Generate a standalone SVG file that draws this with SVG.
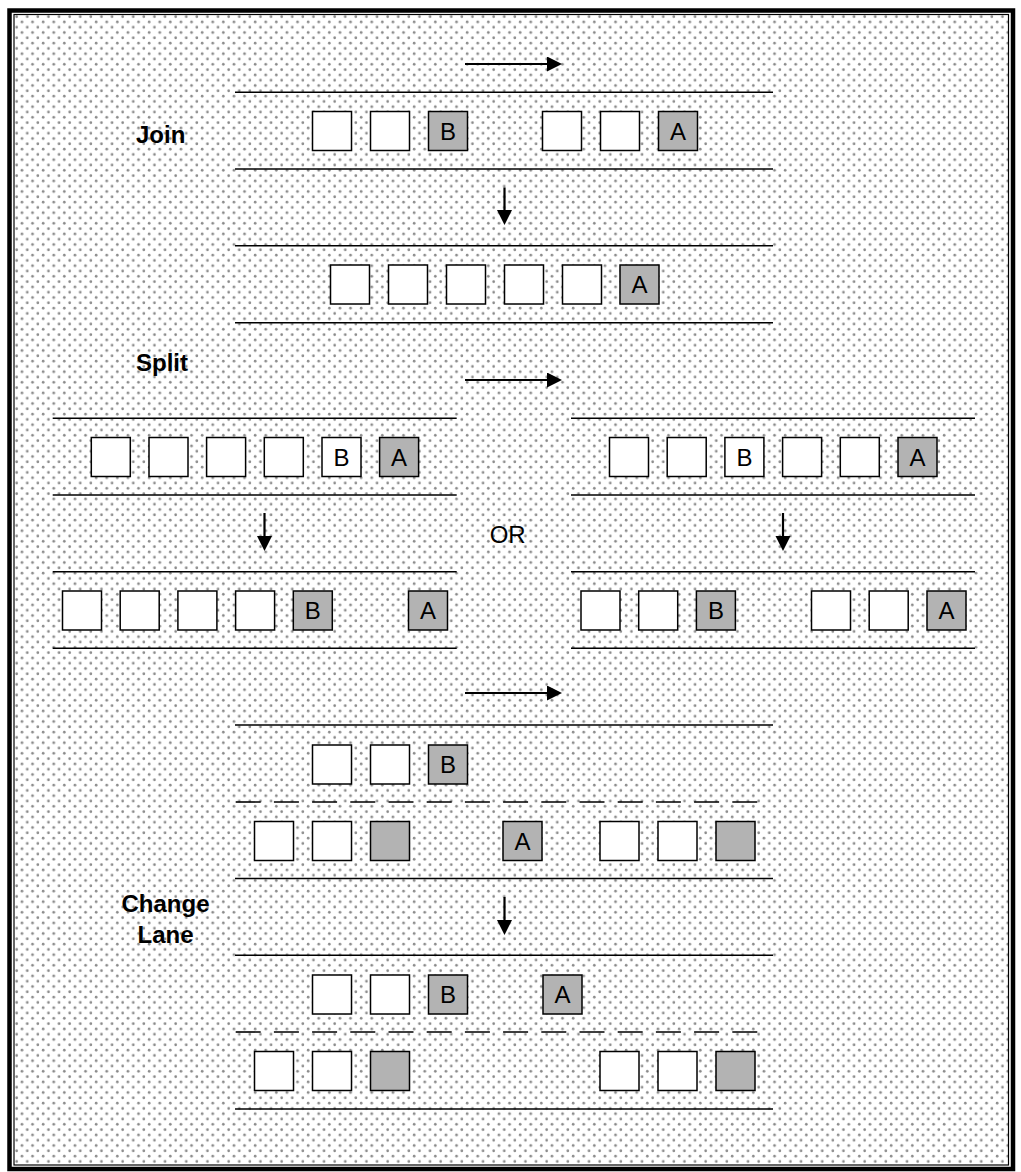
<svg xmlns="http://www.w3.org/2000/svg" width="1021" height="1172" viewBox="0 0 1021 1172">
<defs>
  <pattern id="dots" patternUnits="userSpaceOnUse" x="14" y="14" width="10.6" height="10.6">
    <circle cx="2.65" cy="2.65" r="1.35" fill="#8a8a8a"/>
    <circle cx="7.95" cy="7.95" r="1.35" fill="#8a8a8a"/>
  </pattern>
  <marker id="ah" markerUnits="userSpaceOnUse" markerWidth="16" markerHeight="16" refX="1" refY="7.5" orient="auto">
    <path d="M0,0 L15,7.5 L0,15 z" fill="#000"/>
  </marker>
  <style>
    .lane{stroke:#000;stroke-width:1.6;fill:none}
    .dash{stroke:#000;stroke-width:1.6;fill:none;stroke-dasharray:25 13.2}
    .arr{stroke:#000;stroke-width:2.2;fill:none;marker-end:url(#ah)}
    .car{fill:#fff;stroke:#000;stroke-width:1.5}
    .car.g{fill:#b3b3b3}
    .lbl{font-family:"Liberation Sans",Arial,sans-serif;font-size:24px;fill:#000}
    .title{font-family:"Liberation Sans",Arial,sans-serif;font-size:24px;font-weight:bold;fill:#000}
    .mid{text-anchor:middle}
  </style>
</defs>
<rect width="1021" height="1172" fill="#fff"/>
<g id="frame">
  <rect x="14" y="14.5" width="994.5" height="1150.5" fill="url(#dots)" stroke="#000" stroke-width="1.2"/>
  <rect x="9.5" y="10.5" width="1003.5" height="1158.5" fill="none" stroke="#000" stroke-width="4.5"/>
</g>

<g id="lanes">
  <line class="lane" x1="235" y1="92.3" x2="773" y2="92.3"/>
  <line class="lane" x1="235" y1="169" x2="773" y2="169"/>
  <line class="lane" x1="235" y1="245.7" x2="773" y2="245.7"/>
  <line class="lane" x1="235" y1="322.7" x2="773" y2="322.7"/>

  <line class="lane" x1="52.7" y1="418.3" x2="456.7" y2="418.3"/>
  <line class="lane" x1="52.7" y1="495" x2="456.7" y2="495"/>
  <line class="lane" x1="571" y1="418.3" x2="975" y2="418.3"/>
  <line class="lane" x1="571" y1="495" x2="975" y2="495"/>
  <line class="lane" x1="52.7" y1="571.7" x2="456.7" y2="571.7"/>
  <line class="lane" x1="52.7" y1="648.3" x2="456.7" y2="648.3"/>
  <line class="lane" x1="571" y1="571.7" x2="975" y2="571.7"/>
  <line class="lane" x1="571" y1="648.3" x2="975" y2="648.3"/>

  <line class="lane" x1="235" y1="725" x2="773" y2="725"/>
  <line class="dash" x1="235.7" y1="802" x2="760" y2="802"/>
  <line class="lane" x1="235" y1="878.5" x2="773" y2="878.5"/>
  <line class="lane" x1="235" y1="955.3" x2="773" y2="955.3"/>
  <line class="dash" x1="235.7" y1="1032" x2="760" y2="1032"/>
  <line class="lane" x1="235" y1="1109" x2="773" y2="1109"/>
</g>

<g id="labels">
  <text class="title" x="136" y="142.5">Join</text>
  <text class="title" x="136" y="371">Split</text>
  <text class="title mid" x="165.5" y="912">Change</text>
  <text class="title mid" x="165.5" y="942.5">Lane</text>
  <text class="lbl mid" x="507.7" y="543">OR</text>
</g>

<g id="connectors">
  <line class="arr" x1="465" y1="64" x2="548" y2="64"/>
  <line class="arr" x1="504.5" y1="187.5" x2="504.5" y2="211"/>
  <line class="arr" x1="465" y1="380" x2="548" y2="380"/>
  <line class="arr" x1="264.5" y1="513" x2="264.5" y2="537"/>
  <line class="arr" x1="783" y1="513" x2="783" y2="537"/>
  <line class="arr" x1="465" y1="693" x2="548" y2="693"/>
  <line class="arr" x1="504.5" y1="897" x2="504.5" y2="921"/>
</g>

<!-- Join: row 1 -->
<g id="j1a"><rect class="car" x="312.5" y="111.5" width="39" height="39"/></g>
<g id="j1b"><rect class="car" x="370.5" y="111.5" width="39" height="39"/></g>
<g id="j1B"><rect class="car g" x="428.5" y="111.5" width="39" height="39"/><text class="lbl mid" x="448" y="139.5">B</text></g>
<g id="j1c"><rect class="car" x="542.5" y="111.5" width="39" height="39"/></g>
<g id="j1d"><rect class="car" x="600.5" y="111.5" width="39" height="39"/></g>
<g id="j1A"><rect class="car g" x="658.5" y="111.5" width="39" height="39"/><text class="lbl mid" x="678" y="139.5">A</text></g>

<!-- Join: row 2 -->
<g id="j2a"><rect class="car" x="330.5" y="265" width="39" height="39"/></g>
<g id="j2b"><rect class="car" x="388.5" y="265" width="39" height="39"/></g>
<g id="j2c"><rect class="car" x="446.5" y="265" width="39" height="39"/></g>
<g id="j2d"><rect class="car" x="504.5" y="265" width="39" height="39"/></g>
<g id="j2e"><rect class="car" x="562.5" y="265" width="39" height="39"/></g>
<g id="j2A"><rect class="car g" x="620" y="265" width="39" height="39"/><text class="lbl mid" x="639.5" y="293">A</text></g>

<!-- Split: left before -->
<g id="s1a"><rect class="car" x="91.3" y="437.5" width="39" height="39"/></g>
<g id="s1b"><rect class="car" x="149" y="437.5" width="39" height="39"/></g>
<g id="s1c"><rect class="car" x="206.6" y="437.5" width="39" height="39"/></g>
<g id="s1d"><rect class="car" x="264.3" y="437.5" width="39" height="39"/></g>
<g id="s1B"><rect class="car" x="322" y="437.5" width="39" height="39"/><text class="lbl mid" x="341.5" y="465.5">B</text></g>
<g id="s1A"><rect class="car g" x="379.6" y="437.5" width="39" height="39"/><text class="lbl mid" x="399.1" y="465.5">A</text></g>

<!-- Split: right before -->
<g id="s2a"><rect class="car" x="609.5" y="437.5" width="39" height="39"/></g>
<g id="s2b"><rect class="car" x="667.2" y="437.5" width="39" height="39"/></g>
<g id="s2B"><rect class="car" x="724.9" y="437.5" width="39" height="39"/><text class="lbl mid" x="744.4" y="465.5">B</text></g>
<g id="s2c"><rect class="car" x="782.6" y="437.5" width="39" height="39"/></g>
<g id="s2d"><rect class="car" x="840.3" y="437.5" width="39" height="39"/></g>
<g id="s2A"><rect class="car g" x="898" y="437.5" width="39" height="39"/><text class="lbl mid" x="917.5" y="465.5">A</text></g>

<!-- Split: left after -->
<g id="s3a"><rect class="car" x="62.5" y="591" width="39" height="39"/></g>
<g id="s3b"><rect class="car" x="120.2" y="591" width="39" height="39"/></g>
<g id="s3c"><rect class="car" x="177.9" y="591" width="39" height="39"/></g>
<g id="s3d"><rect class="car" x="235.6" y="591" width="39" height="39"/></g>
<g id="s3B"><rect class="car g" x="293.3" y="591" width="39" height="39"/><text class="lbl mid" x="312.8" y="619">B</text></g>
<g id="s3A"><rect class="car g" x="408.5" y="591" width="39" height="39"/><text class="lbl mid" x="428" y="619">A</text></g>

<!-- Split: right after -->
<g id="s4a"><rect class="car" x="581" y="591" width="39" height="39"/></g>
<g id="s4b"><rect class="car" x="638.7" y="591" width="39" height="39"/></g>
<g id="s4B"><rect class="car g" x="696.4" y="591" width="39" height="39"/><text class="lbl mid" x="715.9" y="619">B</text></g>
<g id="s4c"><rect class="car" x="811.5" y="591" width="39" height="39"/></g>
<g id="s4d"><rect class="car" x="869.2" y="591" width="39" height="39"/></g>
<g id="s4A"><rect class="car g" x="927" y="591" width="39" height="39"/><text class="lbl mid" x="946.5" y="619">A</text></g>

<!-- Change lane: before -->
<g id="c1a"><rect class="car" x="312.5" y="745" width="39" height="39"/></g>
<g id="c1b"><rect class="car" x="370.5" y="745" width="39" height="39"/></g>
<g id="c1B"><rect class="car g" x="428.5" y="745" width="39" height="39"/><text class="lbl mid" x="448" y="773">B</text></g>
<g id="c2a"><rect class="car" x="254.5" y="821.5" width="39" height="39"/></g>
<g id="c2b"><rect class="car" x="312.5" y="821.5" width="39" height="39"/></g>
<g id="c2c"><rect class="car g" x="370.5" y="821.5" width="39" height="39"/></g>
<g id="c2A"><rect class="car g" x="503" y="821.5" width="39" height="39"/><text class="lbl mid" x="522.5" y="849.5">A</text></g>
<g id="c2d"><rect class="car" x="600" y="821.5" width="39" height="39"/></g>
<g id="c2e"><rect class="car" x="658" y="821.5" width="39" height="39"/></g>
<g id="c2f"><rect class="car g" x="716" y="821.5" width="39" height="39"/></g>

<!-- Change lane: after -->
<g id="c3a"><rect class="car" x="312.5" y="975" width="39" height="39"/></g>
<g id="c3b"><rect class="car" x="370.5" y="975" width="39" height="39"/></g>
<g id="c3B"><rect class="car g" x="428.5" y="975" width="39" height="39"/><text class="lbl mid" x="448" y="1003">B</text></g>
<g id="c3A"><rect class="car g" x="543" y="975" width="39" height="39"/><text class="lbl mid" x="562.5" y="1003">A</text></g>
<g id="c4a"><rect class="car" x="254.5" y="1051.5" width="39" height="39"/></g>
<g id="c4b"><rect class="car" x="312.5" y="1051.5" width="39" height="39"/></g>
<g id="c4c"><rect class="car g" x="370.5" y="1051.5" width="39" height="39"/></g>
<g id="c4d"><rect class="car" x="600" y="1051.5" width="39" height="39"/></g>
<g id="c4e"><rect class="car" x="658" y="1051.5" width="39" height="39"/></g>
<g id="c4f"><rect class="car g" x="716" y="1051.5" width="39" height="39"/></g>
</svg>
